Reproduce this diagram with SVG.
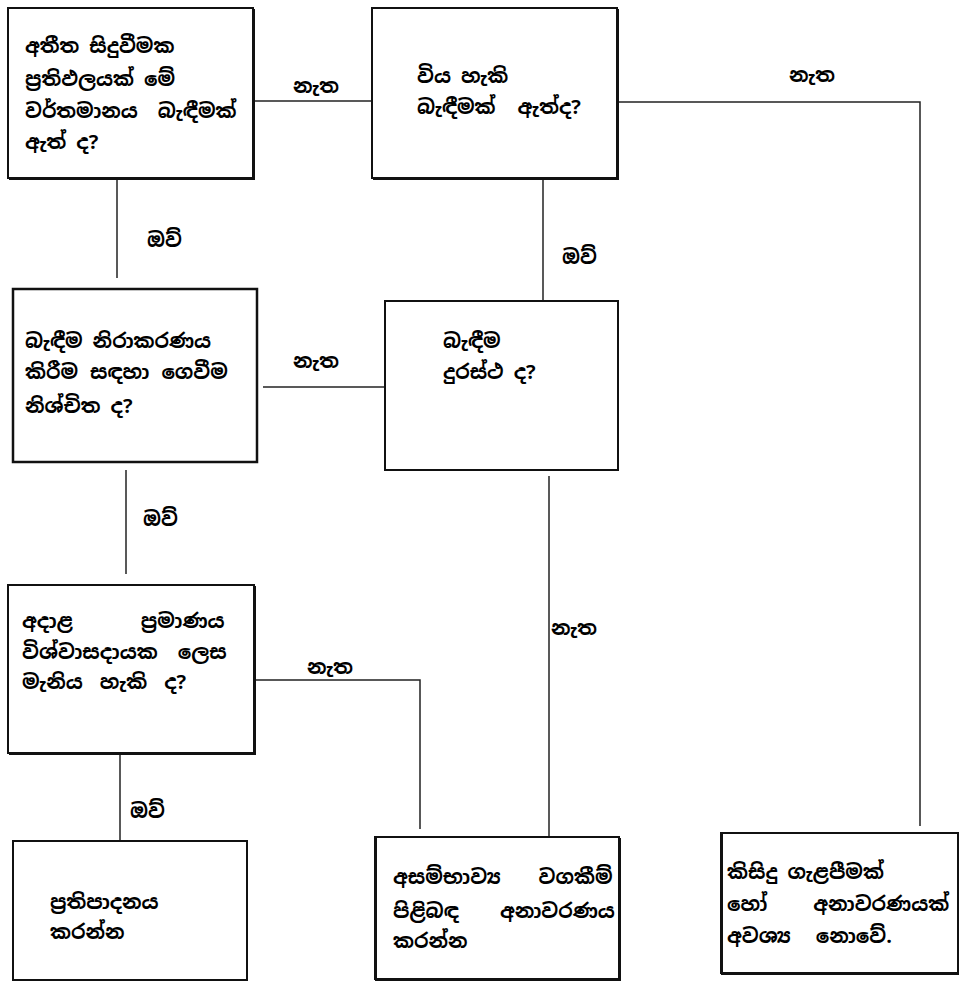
<svg xmlns="http://www.w3.org/2000/svg" width="960" height="982" viewBox="0 0 960 982">
<style>
.box{fill:#fff;stroke:#111;stroke-width:2}
.sh{fill:none;stroke:#111;stroke-width:2}
.t{font-family:"Noto Sans Sinhala","Noto Sans","Liberation Sans",sans-serif;font-size:20px;font-weight:bold;fill:#000}
.lbl{font-family:"Noto Sans Sinhala","Noto Sans","Liberation Sans",sans-serif;font-size:20px;font-weight:bold;fill:#000}
.c{fill:none;stroke:#222;stroke-width:1.5}
</style>
<rect width="960" height="982" fill="#fff"/>
<g id="connectors">
<line class="c" x1="253" y1="101" x2="372" y2="101"/>
<polyline class="c" points="617,102 920,102 920,826"/>
<line class="c" x1="117" y1="178" x2="117" y2="278"/>
<line class="c" x1="543" y1="178" x2="543" y2="301"/>
<line class="c" x1="263" y1="387" x2="385" y2="387"/>
<line class="c" x1="126" y1="470" x2="126" y2="574"/>
<line class="c" x1="549" y1="476" x2="549" y2="837"/>
<polyline class="c" points="254,680 420,680 420,829"/>
<line class="c" x1="120" y1="753" x2="120" y2="841"/>
<text class="lbl" x="293" y="93">නැත</text>
<text class="lbl" x="789" y="82">නැත</text>
<text class="lbl" x="147" y="247">ඔව්</text>
<text class="lbl" x="562" y="264">ඔව්</text>
<text class="lbl" x="293" y="368">නැත</text>
<text class="lbl" x="143" y="526">ඔව්</text>
<text class="lbl" x="551" y="635">නැත</text>
<text class="lbl" x="307" y="674">නැත</text>
<text class="lbl" x="130" y="818">ඔව්</text>
</g>
<g id="n1">
<rect class="box" x="8" y="8" width="245" height="170"/>
<polyline class="sh" points="254,9 254,179 9,179"/>
<text class="t" x="25" y="53">අතීත සිදුවීමක</text>
<text class="t" x="25" y="86">ප්‍රතිඵලයක් මේ</text>
<text class="t" x="25" y="118" style="word-spacing:10px">වර්තමානය බැඳීමක්</text>
<text class="t" x="25" y="149">ඇත් ද?</text>
</g>
<g id="n2">
<rect class="box" x="372" y="8" width="245" height="170"/>
<polyline class="sh" points="618,9 618,179 373,179"/>
<text class="t" x="417" y="83">විය හැකි</text>
<text class="t" x="417" y="114" style="word-spacing:12px">බැඳීමක් ඇත්ද?</text>
</g>
<g id="n3">
<rect class="box" x="13" y="289" width="244" height="173" style="stroke-width:2.5"/>
<text class="t" x="25" y="348">බැඳීම නිරාකරණය</text>
<text class="t" x="25" y="379" style="word-spacing:2px">කිරීම සඳහා ගෙවීම</text>
<text class="t" x="25" y="413">නිශ්චිත ද?</text>
</g>
<g id="n4">
<rect class="box" x="385" y="301" width="233" height="169"/>
<text class="t" x="443" y="348">බැඳීම</text>
<text class="t" x="443" y="379">දුරස්ථ ද?</text>
</g>
<g id="n5">
<rect class="box" x="8" y="585" width="246" height="168"/>
<polyline class="sh" points="255,586 255,754 9,754"/>
<text class="t" x="22" y="628" style="word-spacing:58px">අදාළ ප්‍රමාණය</text>
<text class="t" x="22" y="659" style="word-spacing:10px">විශ්වාසදායක ලෙස</text>
<text class="t" x="22" y="689" style="word-spacing:7px">මැනිය හැකි ද?</text>
</g>
<g id="n6">
<rect class="box" x="13" y="841" width="234" height="139"/>
<text class="t" x="50" y="909">ප්‍රතිපාදනය</text>
<text class="t" x="50" y="939">කරන්න</text>
</g>
<g id="n7">
<rect class="box" x="375" y="837" width="244" height="142"/>
<polyline class="sh" points="376,838 376,980 620,980 620,838"/>
<text class="t" x="393" y="884" style="word-spacing:28px">අසම්භාව්‍ය වගකීම්</text>
<text class="t" x="393" y="918" style="word-spacing:31px">පිළිබඳ අනාවරණය</text>
<text class="t" x="393" y="948">කරන්න</text>
</g>
<g id="n8">
<rect class="box" x="721" y="833" width="237" height="140"/>
<polyline class="sh" points="722,834 722,974 959,974"/>
<text class="t" x="727" y="879">කිසිදු ගැළපීමක්</text>
<text class="t" x="727" y="911" style="word-spacing:36px">හෝ අනාවරණයක්</text>
<text class="t" x="727" y="943" style="word-spacing:15px">අවශ්‍ය නොවේ.</text>
</g>
</svg>
